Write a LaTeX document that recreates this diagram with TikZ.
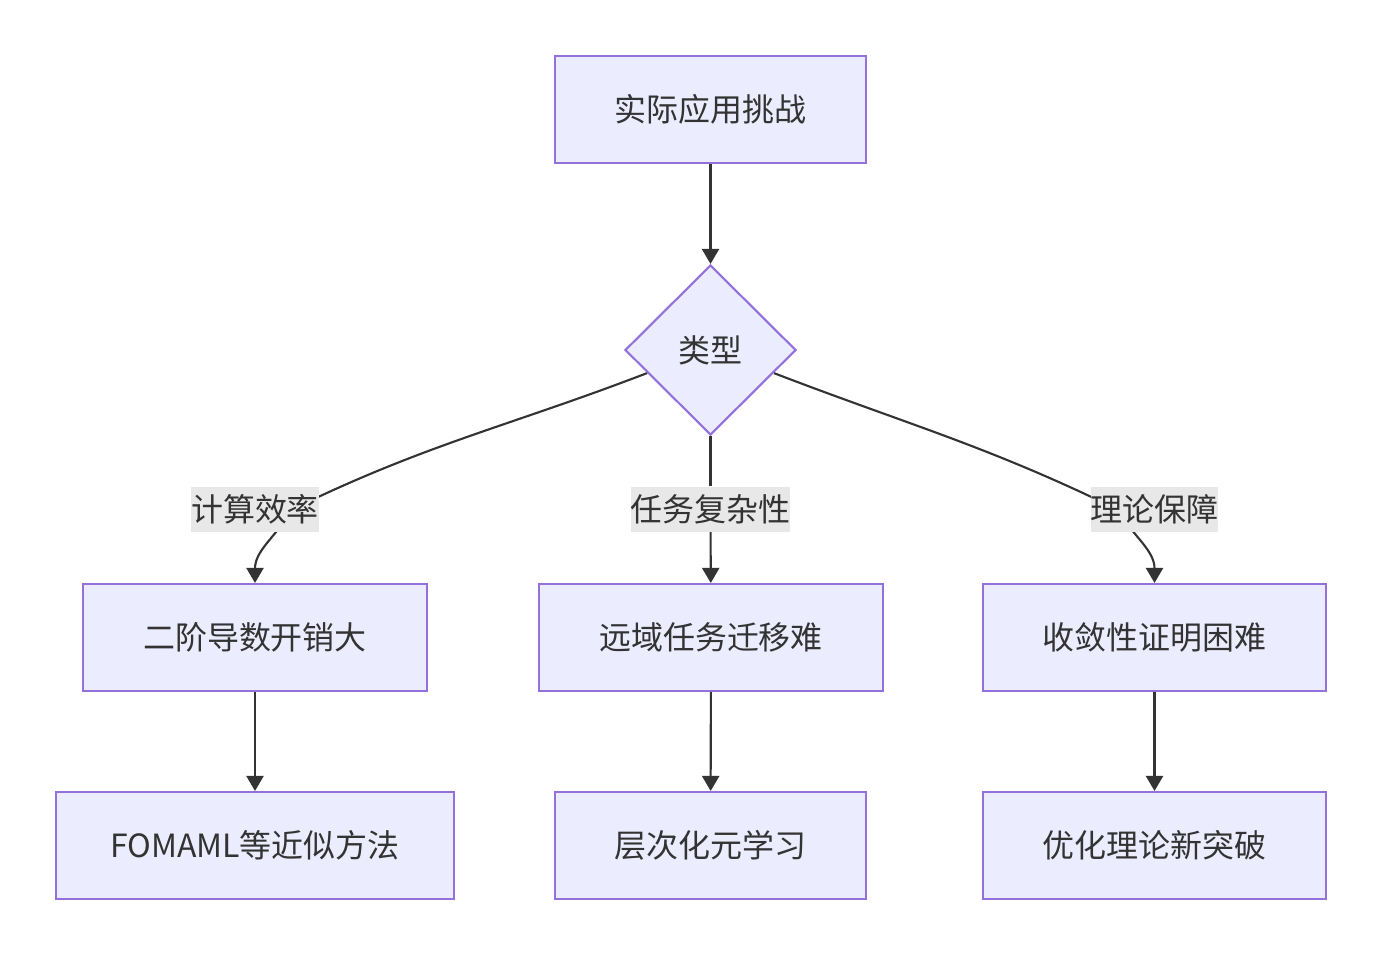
\documentclass[tikz,border=0pt]{standalone}
\usepackage{fontspec}
\setmainfont{Noto Sans CJK SC}
\usepackage{tikz}
\usetikzlibrary{shapes.geometric}
\usetikzlibrary{arrows.meta}
\usetikzlibrary{backgrounds}
\usepackage{xcolor}
\definecolor{boxfill}{HTML}{ECECFF}
\definecolor{boxline}{HTML}{9370DB}
\definecolor{ink}{HTML}{333333}
\definecolor{labelbg}{HTML}{E8E8E8}

\tikzset{
  box/.style={draw=boxline, fill=boxfill, line width=0.6pt, minimum height=10.7mm, inner sep=0pt, text=ink},
  decision/.style={diamond, draw=boxline, fill=boxfill, line width=0.6pt, minimum width=17.1mm, minimum height=17mm, inner sep=0pt, text=ink},
  elabel/.style={fill=labelbg, inner sep=0pt, minimum height=4.5mm, text=ink},
  flow/.style={draw=ink, line width=0.6pt, -{Triangle[length=1.5mm, width=1.7mm]}},
  plain/.style={draw=ink, line width=0.6pt}
}

\begin{document}
\begin{tikzpicture}[x=0.1mm, y=0.1mm, every node/.style={font=\fontsize{9.1pt}{11pt}\selectfont}]
  \useasboundingbox (0,0) rectangle (1382,956);
  \node[box, minimum width=31.1mm] (challenge) at (710.5,846.5) {实际应用挑战};
  \node[decision] (type) at (710.5,606) {类型};
  \node[elabel] (lab1) at (255,447) {计算效率};
  \node[elabel] (lab2) at (710.5,447) {任务复杂性};
  \node[elabel] (lab3) at (1154.5,447) {理论保障};
  \node[box, minimum width=34.4mm] (cost) at (255,318.5) {二阶导数开销大};
  \node[box, minimum width=34.4mm] (transfer) at (711,318.5) {远域任务迁移难};
  \node[box, minimum width=34.3mm] (proof) at (1154.5,318.5) {收敛性证明困难};
  \node[box, minimum width=39.8mm] (fomaml) at (255,110.5) {FOMAML等近似方法};
  \node[box, minimum width=31.1mm] (hier) at (710.5,110.5) {层次化元学习};
  \node[box, minimum width=34.3mm] (theory) at (1154.5,110.5) {优化理论新突破};

  \draw[flow] (challenge) -- (type);
  \draw[plain] (type) -- (lab2);
  \draw[flow] (lab2) -- (transfer);
  \begin{scope}[on background layer]
    \draw[flow] (type.200) to[out=201, in=26] ([xshift=3.8mm]lab1.center) to[out=238, in=90] (cost.north);
    \draw[flow] (type.340) to[out=339, in=154] ([xshift=-3.8mm]lab3.center) to[out=302, in=90] (proof.north);
  \end{scope}
  \draw[flow] (cost) -- (fomaml);
  \draw[flow] (transfer) -- (hier);
  \draw[flow] (proof) -- (theory);
\end{tikzpicture}
\end{document}
